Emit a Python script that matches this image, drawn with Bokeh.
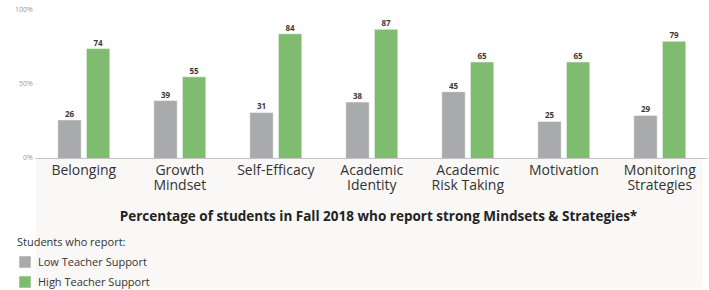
from bokeh.plotting import figure
from bokeh.models import Range1d, ColumnDataSource, BoxAnnotation, Legend, LegendItem
from bokeh.transform import dodge
from bokeh.core.properties import value
from bokeh.embed import file_html
from bokeh.resources import INLINE

# ---- data ----
categories = ["Belonging", "Growth\nMindset", "Self-Efficacy", "Academic\nIdentity",
              "Academic\nRisk Taking", "Motivation", "Monitoring\nStrategies"]
low_support = [26, 39, 31, 38, 45, 25, 29]
high_support = [74, 55, 84, 87, 65, 65, 79]
y_ticks = [0, 50, 100]
y_tick_labels = ["0%", "50%", "100%"]
series_names = ["Low Teacher Support", "High Teacher Support"]
chart_title = "Percentage of students in Fall 2018 who report strong Mindsets & Strategies*"
legend_title = "Students who report:"

GRAY = "#a8aaac"
GREEN = "#80bc6f"
FONT = "Open Sans"

# ---- layout (picture pixels) ----
W, H = 709, 290
PAGE_LEFT, PAGE_TOP = 0, 0
CAT0 = 83.3      # x of first category centre
CW = 96.0        # category width in px
ZERO = 158.0     # y of 0%
PPU = 1.485      # px per percent

def px_x(page_x):
    return (page_x - CAT0) / CW

def px_y(page_y):
    return (ZERO - page_y) / PPU

p = figure(width=W, height=H, output_backend="svg", toolbar_location=None,
           x_range=Range1d(px_x(PAGE_LEFT), px_x(PAGE_LEFT + W)),
           y_range=Range1d(px_y(PAGE_TOP + H), px_y(PAGE_TOP)),
           x_axis_location=None, y_axis_location=None,
           min_border=0, outline_line_color=None)
p.xgrid.visible = False
p.ygrid.visible = False
p.background_fill_color = "white"

# lower light panel
p.add_layout(BoxAnnotation(left=-0.5, right=px_x(702), top=0, bottom=px_y(287),
                           fill_color="#f9f8f6", fill_alpha=1, line_alpha=0, level="underlay"))

idx = list(range(len(categories)))
src = ColumnDataSource(dict(x=idx, low=low_support, high=high_support,
                            low_txt=[str(v) for v in low_support],
                            high_txt=[str(v) for v in high_support],
                            cat=categories))

BW = 0.244
OFF = 0.149
r_low = p.vbar(x=dodge("x", -OFF), top="low", bottom=0, width=BW, source=src,
               fill_color=GRAY, line_color="white", line_alpha=0.5, line_width=1)
r_high = p.vbar(x=dodge("x", OFF), top="high", bottom=0, width=BW, source=src,
                fill_color=GREEN, line_color="white", line_alpha=0.5, line_width=1)

# baseline axis line
p.segment(x0=-0.5, x1=6.5, y0=0, y1=0, line_color="#c4c4c4", line_width=1.2)

# value labels
for col, off in (("low_txt", -OFF), ("high_txt", OFF)):
    top_col = "low" if col == "low_txt" else "high"
    p.text(x=dodge("x", off), y=top_col, text=col, source=src,
           text_align="center", text_baseline="alphabetic", y_offset=-6,
           text_font=value(FONT), text_font_size="8px", text_font_style="bold",
           text_color="#3a3a3a")

# y tick labels
p.text(x=[-0.5] * len(y_ticks), y=y_ticks, text=y_tick_labels, x_offset=-3, y_offset=-1,
       text_align="right", text_baseline="middle", text_font=value(FONT),
       text_font_size="7px", text_color="#9a9a9a")

# category labels
p.text(x="x", y=0, text="cat", source=src, y_offset=1,
       text_align="center", text_baseline="top", text_line_height=0.8,
       text_font=value(FONT), text_font_size="14px", text_color="#333333")

# title
p.text(x=[px_x(378)], y=[px_y(215)], text=[chart_title], text_align="center",
       text_baseline="alphabetic", text_font=value(FONT), text_font_size="13.5px",
       text_font_style="bold", text_color="#222222")

legend = Legend(items=[LegendItem(label=series_names[0], renderers=[r_low]),
                       LegendItem(label=series_names[1], renderers=[r_high])],
                location=(17, 1), orientation="vertical", title=legend_title,
                padding=0, margin=0, spacing=5, glyph_width=15, glyph_height=15,
                label_standoff=6, label_text_font=FONT, label_text_font_size="11px",
                label_text_color="#333333", label_height=15,
                title_text_font=FONT, title_text_font_size="11px",
                title_text_font_style="normal", title_text_color="#333333",
                title_standoff=5, background_fill_alpha=0, border_line_alpha=0)
p.add_layout(legend)

open("out.html", "w").write(file_html(p, INLINE))
